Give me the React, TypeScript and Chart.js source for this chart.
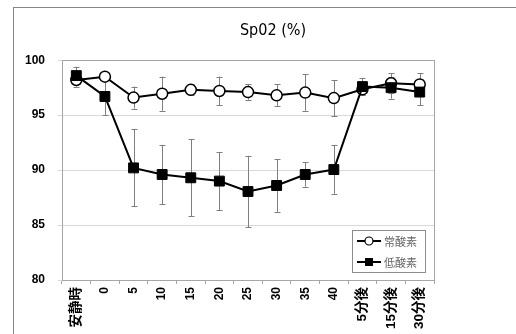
import React, { useEffect, useRef } from "react";
import { Chart, registerables } from "chart.js";

Chart.register(...registerables);

const categories = ["安静時", "0", "5", "10", "15", "20", "25", "30", "35", "40", "5分後", "15分後", "30分後"];
const normoxiaLabel = "常酸素";
const hypoxiaLabel = "低酸素";
const normoxiaMean = [98.2, 98.5, 96.6, 96.95, 97.3, 97.2, 97.1, 96.8, 97.05, 96.55, 97.35, 97.9, 97.8];
const normoxiaSD = [0.6, 0.3, 1.0, 1.55, 0.5, 1.3, 0.7, 1.0, 1.65, 1.65, 0.5, 0.9, 1.0];
const hypoxiaMean = [98.6, 96.7, 90.2, 89.6, 89.3, 89.0, 88.05, 88.6, 89.6, 90.05, 97.6, 97.5, 97.1];
const hypoxiaSD = [0.8, 1.7, 3.5, 2.7, 3.5, 2.65, 3.25, 2.4, 1.1, 2.2, 0.8, 1.0, 1.2];
const yTicks = [80, 85, 90, 95, 100];
const titleText = "Sp02 (%)";

const sds = [normoxiaSD, hypoxiaSD];

const framePlugin = {
  id: "frame",
  beforeDraw(chart: any) {
    const { ctx } = chart;
    ctx.save();
    ctx.fillStyle = "#ffffff";
    ctx.fillRect(0, 0, chart.width, chart.height);
    ctx.strokeStyle = "#868686";
    ctx.lineWidth = 1;
    ctx.strokeRect(13.5, 7.5, chart.width + 50, chart.height + 50);
    ctx.restore();
  },
  beforeDatasetsDraw(chart: any) {
    const { ctx, chartArea } = chart;
    ctx.save();
    ctx.strokeStyle = "#a6a6a6";
    ctx.lineWidth = 1;
    ctx.strokeRect(
      Math.round(chartArea.left) + 0.5,
      Math.round(chartArea.top) + 0.5,
      Math.round(chartArea.right - chartArea.left),
      Math.round(chartArea.bottom - chartArea.top)
    );
    const xs = chart.scales.x;
    const ys = chart.scales.y;
    ctx.strokeStyle = "#7f7f7f";
    chart.data.datasets.forEach((ds: any, di: number) => {
      const sd = sds[di];
      ds.data.forEach((v: number, i: number) => {
        const x = Math.round(xs.getPixelForValue(i)) + 0.5;
        const y1 = ys.getPixelForValue(v + sd[i]);
        const y2 = ys.getPixelForValue(v - sd[i]);
        ctx.beginPath();
        ctx.moveTo(x, y1);
        ctx.lineTo(x, y2);
        ctx.moveTo(x - 3, Math.round(y1) + 0.5);
        ctx.lineTo(x + 3, Math.round(y1) + 0.5);
        ctx.moveTo(x - 3, Math.round(y2) + 0.5);
        ctx.lineTo(x + 3, Math.round(y2) + 0.5);
        ctx.stroke();
      });
    });
    ctx.restore();
  },
  afterDraw(chart: any) {
    const { ctx } = chart;
    ctx.save();
    const bx = 352.5, by = 230.5, bw = 73, bh = 42;
    ctx.fillStyle = "#ffffff";
    ctx.fillRect(bx, by, bw, bh);
    ctx.strokeStyle = "#8c8c8c";
    ctx.lineWidth = 1;
    ctx.strokeRect(bx, by, bw, bh);
    const rows = [241, 262];
    chart.data.datasets.forEach((ds: any, i: number) => {
      const y = rows[i];
      ctx.strokeStyle = "#000";
      ctx.lineWidth = 2;
      ctx.beginPath();
      ctx.moveTo(357, y);
      ctx.lineTo(381, y);
      ctx.stroke();
      ctx.lineWidth = 1.2;
      if (i === 0) {
        ctx.fillStyle = "#fff";
        ctx.beginPath();
        ctx.arc(369, y, 4, 0, Math.PI * 2);
        ctx.fill();
        ctx.stroke();
      } else {
        ctx.fillStyle = "#000";
        ctx.fillRect(365, y - 4, 8, 8);
      }
      ctx.fillStyle = "#666666";
      ctx.font = "11px 'Noto Sans CJK JP'";
      ctx.textBaseline = "middle";
      ctx.textAlign = "left";
      ctx.fillText(ds.label, 384, y + 0.5);
    });
    ctx.restore();
  },
};

export default function App() {
  const ref = useRef<HTMLCanvasElement>(null);
  useEffect(() => {
    const chart = new Chart(ref.current!, {
      type: "line",
      data: {
        labels: categories,
        datasets: [
          {
            label: normoxiaLabel,
            data: normoxiaMean,
            borderColor: "#000",
            borderWidth: 2,
            pointStyle: "circle",
            pointRadius: 5.5,
            pointBorderWidth: 1.5,
            pointBackgroundColor: "#fff",
            pointBorderColor: "#000",
            order: 1,
          },
          {
            label: hypoxiaLabel,
            data: hypoxiaMean,
            borderColor: "#000",
            borderWidth: 2,
            pointStyle: "rect",
            pointRadius: 7,
            pointBorderWidth: 1,
            pointBackgroundColor: "#000",
            pointBorderColor: "#000",
            order: 0,
          },
        ],
      },
      options: {
        responsive: false,
        animation: false,
        layout: { padding: { left: 20, right: -10, top: 0, bottom: 0 } },
        plugins: {
          legend: { display: false },
          tooltip: { enabled: false },
          title: {
            display: true,
            text: titleText,
            color: "#000",
            font: { family: "'DejaVu Sans Condensed', 'Noto Sans CJK JP'", size: 16, weight: "normal" },
            padding: { top: 21, bottom: 20 },
          },
        },
        scales: {
          x: {
            type: "category",
            offset: true,
            grid: { display: true, drawOnChartArea: false, drawTicks: true, tickLength: 4, color: "#a6a6a6", offset: true },
            border: { display: true, color: "#a6a6a6" },
            ticks: {
              minRotation: 90,
              maxRotation: 90,
              autoSkip: false,
              padding: 3,
              color: "#000",
              font: (c: any) => {
                const lbl = String(categories[c.index] ?? "");
                const cjk = /[^\x00-\x7f]/.test(lbl);
                return { family: "'Liberation Sans', 'Noto Sans CJK JP'", size: cjk ? 13.5 : 12, weight: "bold" };
              },
            },
            afterFit(s: any) {
              s.height = 54;
            },
          },
          y: {
            min: 80,
            max: 100,
            afterBuildTicks(s: any) {
              s.ticks = yTicks.map((v) => ({ value: v }));
            },
            grid: { color: "#d9d9d9", tickLength: 4, drawTicks: true },
            border: { display: true, color: "#a6a6a6" },
            ticks: {
              padding: 13,
              color: "#000",
              font: { family: "'Liberation Sans'", size: 12, weight: "bold" },
            },
            afterFit(s: any) {
              s.width = 42;
            },
          },
          y2: {
            position: "right",
            display: true,
            grid: { display: false },
            border: { display: false },
            ticks: { display: false },
            afterFit(s: any) {
              s.width = 92;
            },
          },
        },
      },
      plugins: [framePlugin],
    });
    return () => chart.destroy();
  }, []);
  return (
    <div style={{ position: "absolute", left: 0, top: 0, width: 516, height: 334 }}>
      <canvas ref={ref} width={516} height={334} style={{ display: "block" }} />
    </div>
  );
}
